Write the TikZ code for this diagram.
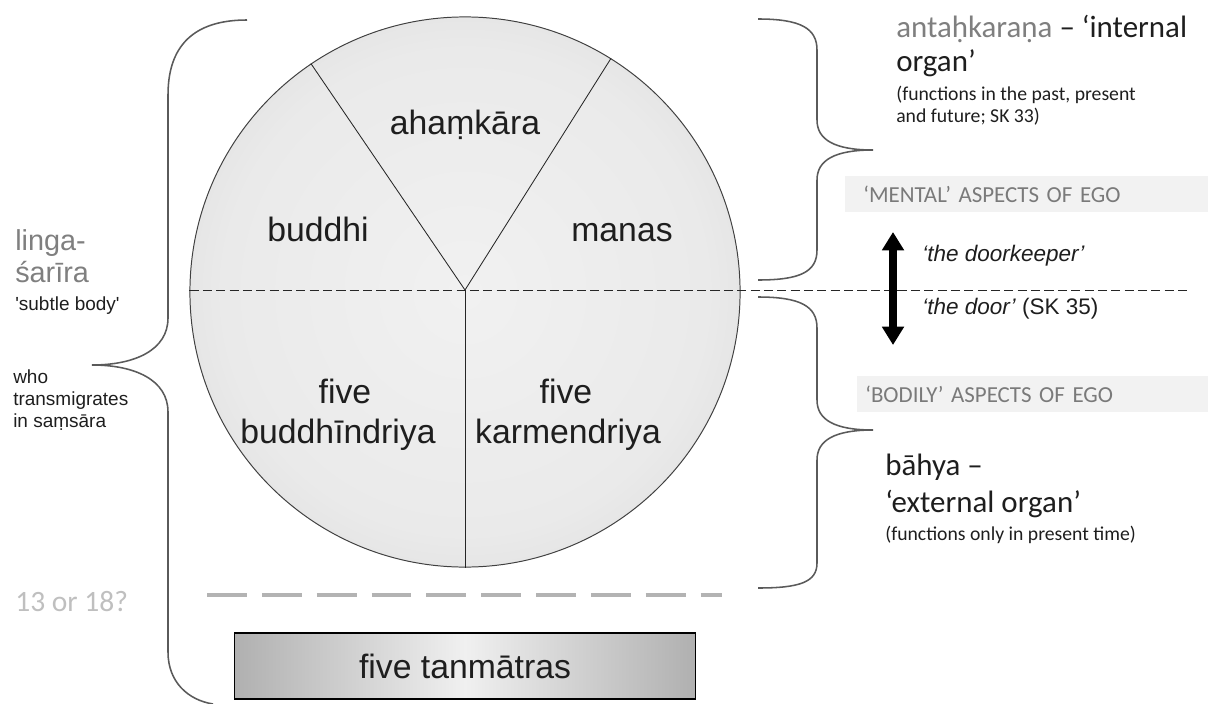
\documentclass[tikz,border=0pt]{standalone}
\usepackage{fontspec}
\setmainfont{Liberation Sans}
\newfontfamily\calfont{Carlito}
\usetikzlibrary{arrows.meta}

\definecolor{darktext}{HTML}{1E1E1E}
\definecolor{headgray}{HTML}{7F7F7F}
\definecolor{capsgray}{HTML}{7A7A7A}
\definecolor{palegray}{HTML}{BFBFBF}
\definecolor{bandgray}{HTML}{F2F2F2}
\definecolor{dashgray}{HTML}{B3B3B3}
\definecolor{bracegray}{HTML}{5A5A5A}
\definecolor{ballin}{HTML}{F1F1F1}
\definecolor{ballsoft}{HTML}{EAEAEA}
\definecolor{ballmid}{HTML}{D6D6D6}
\definecolor{balldeep}{HTML}{BFBFBF}
\definecolor{ballrim}{HTML}{A6A6A6}
\definecolor{boxedge}{HTML}{B0B0B0}
\definecolor{boxmid}{HTML}{F0F0F0}
\pgfdeclareradialshading{ballshade}{\pgfpoint{0bp}{0bp}}{color(0bp)=(ballin); color(22bp)=(ballsoft); color(37bp)=(ballmid); color(46bp)=(balldeep); color(50bp)=(ballrim)}

\begin{document}
\begin{tikzpicture}[x=0.025cm, y=-0.025cm,
    lbl/.style={anchor=base, inner sep=0, text=darktext, font=\fontsize{24}{26}\selectfont},
    txt/.style={anchor=base west, inner sep=0, text=darktext},
    big/.style={txt, font=\calfont\fontsize{22}{24}\selectfont},
    small/.style={txt, font=\calfont\fontsize{14}{16}\selectfont},
    side/.style={txt, font=\fontsize{13.5}{15}\selectfont},
    band/.style={anchor=west, fill=bandgray, minimum height=0.9cm, align=left, text=capsgray, font=\calfont\fontsize{16.3}{18}\selectfont},
    brace/.style={draw=bracegray, line width=1.1pt},
    a/.style={{Triangle[width=15pt,length=13pt]}-{Triangle[width=15pt,length=13pt]}, line width=5pt},
]
\useasboundingbox (0,0) rectangle (1208,703);

\node[circle, minimum size=13.75cm, inner sep=0, draw=black!75, line width=0.7pt, shading=ballshade] (sphere) at (465,292) {};
\coordinate (lineend) at (1187,290);
\draw[black!85, line width=0.7pt, dash pattern=on 6.5pt off 3pt] (sphere.west |- lineend) -- (lineend);
\draw[black!85, line width=0.6pt] (sphere.124) -- (sphere.center |- lineend) -- (sphere.58);
\draw[black!85, line width=0.6pt] (sphere.center |- lineend) -- (sphere.south);

\node[lbl] (ahamkara) at (465,134) {ahaṃkāra};
\node[lbl] (buddhi) at (318,241) {buddhi};
\node[lbl] (manas) at (622,241) {manas};
\node[lbl] (five1) at (345,403) {five};
\node[lbl] (bindriya) at (338,443) {buddhīndriya};
\node[lbl] (five2) at (566,403) {five};
\node[lbl] (kindriya) at (568,443) {karmendriya};

\coordinate (gd1) at (207,595);
\coordinate (gd2) at (722,595);
\draw[dashgray, line width=3.2pt, dash pattern=on 28.4pt off 10.6pt] (gd1) -- (gd2);

\node[draw=black, line width=0.8pt, left color=boxedge, right color=boxedge, middle color=boxmid, minimum width=11.525cm, minimum height=1.65cm, inner sep=0, text=darktext, font=\fontsize{24}{26}\selectfont] (tanm) at (465,666) {five tanmātras};

% braces
\draw[brace] (247,20) .. controls (200,20) and (168,40) .. (168,95) -- (168,318) .. controls (168,350) and (135,365) .. (92,365) .. controls (135,365) and (168,380) .. (168,412) -- (168,652) .. controls (168,682) and (188,700) .. (213,704);
\draw[brace] (758,19) .. controls (800,19) and (817,28) .. (817,50) -- (817,120) .. controls (817,140) and (835,150) .. (873,150) .. controls (835,150) and (817,160) .. (817,180) -- (817,250) .. controls (817,272) and (800,280) .. (758,280);
\draw[brace] (758,297) .. controls (800,297) and (817,306) .. (817,328) -- (817,400) .. controls (817,420) and (835,430) .. (873,430) .. controls (835,430) and (817,440) .. (817,460) -- (817,563) .. controls (817,582) and (800,588) .. (758,588);

\node[txt, text=headgray, font=\fontsize{20.5}{22}\selectfont] (linga) at (15,250) {linga-};
\node[txt, text=headgray, font=\fontsize{20.5}{22}\selectfont] (sarira) at (15,282) {śarīra};
\node[side] (subtle) at (15,310) {\textquotesingle subtle body\textquotesingle};
\node[side] (who) at (13,383) {who};
\node[side] (trans) at (13,405) {transmigrates};
\node[side] (samsara) at (13,427) {in saṃsāra};
\node[txt, text=palegray, font=\calfont\fontsize{21}{23}\selectfont] (q1318) at (15,611) {13 or 18?};

\node[big] (antah) at (896,38) {\textcolor{headgray}{antaḥkaraṇa} – ‘internal};
\node[big] (organ) at (896,72) {organ’};
\node[small] (past) at (896,100) {(functions in the past, present};
\node[small] (future) at (896,122) {and future; SK 33)};

\node[band, inner xsep=0.45cm, text width=8.175cm] (mental) at (845,194) {‘MENTAL’ ASPECTS OF EGO};
\node[band, inner xsep=0.2cm, text width=8.375cm] (bodily) at (857,394) {‘BODILY’ ASPECTS OF EGO};

\coordinate (atop) at (893,232);
\coordinate (abot) at (893,345);
\draw[a] (atop) -- (abot);
\node[txt, font=\fontsize{16}{18}\selectfont] (keeper) at (922,261) {\textit{‘the doorkeeper’}};
\node[txt, font=\fontsize{16}{18}\selectfont] (door) at (922,314) {\textit{‘the door’} (SK 35)};

\node[big] (bahya) at (885,475) {bāhya –};
\node[big] (external) at (885,512) {‘external organ’};
\node[small] (present) at (885,540) {(functions only in present time)};
\end{tikzpicture}
\end{document}
